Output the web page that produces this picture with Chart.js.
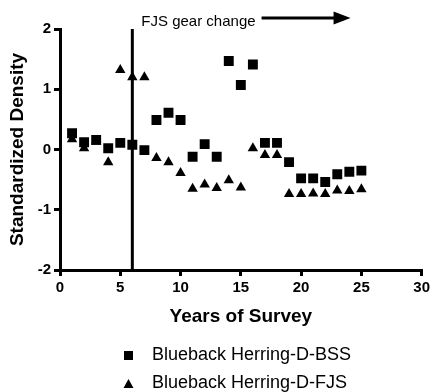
<!DOCTYPE html>
<html>
<head>
<meta charset="utf-8">
<script src="https://cdn.jsdelivr.net/npm/chart.js@4.4.0/dist/chart.umd.min.js"></script>
<style>
  html, body { margin: 0; padding: 0; background: #fff; }
  #densityChart { display: block; }
</style>
</head>
<body>
<canvas id="densityChart" width="433" height="392"></canvas>
<script>
const years = [1, 2, 3, 4, 5, 6, 7, 8, 9, 10, 11, 12, 13, 14, 15, 16, 17, 18, 19, 20, 21, 22, 23, 24, 25];
const bssDensity = [0.27, 0.12, 0.16, 0.02, 0.11, 0.08, -0.01, 0.49, 0.61, 0.49, -0.12, 0.09, -0.12,
  1.47, 1.07, 1.41, 0.11, 0.11, -0.21, -0.48, -0.48, -0.54, -0.41, -0.37, -0.35];
const fjsDensity = [0.17, 0.02, 0.13, -0.21, 1.32, 1.2, 1.2, -0.14, -0.21, -0.39, -0.65, -0.58, -0.64,
  -0.51, -0.63, 0.02, -0.09, -0.09, -0.74, -0.74, -0.73, -0.74, -0.68, -0.69, -0.66];
const seriesLabels = ['Blueback Herring-D-BSS', 'Blueback Herring-D-FJS'];
const gearChangeYear = 6;
const gearChangeLabel = 'FJS gear change';

const fontFamily = "Arial, 'Liberation Sans', sans-serif";
Chart.defaults.font.family = fontFamily;
Chart.defaults.color = '#000';

function toPoints(values) {
  return years.map((yr, i) => ({ x: yr, y: values[i] }));
}

// vertical line at the gear change, with the note + arrow above the plot
const gearChangePlugin = {
  id: 'gearChange',
  afterDatasetsDraw(chart) {
    const ctx = chart.ctx;
    const xs = chart.scales.x;
    const ys = chart.scales.y;
    const lineX = xs.getPixelForValue(gearChangeYear);

    ctx.save();
    ctx.strokeStyle = '#000';
    ctx.fillStyle = '#000';
    ctx.lineWidth = 3;
    ctx.beginPath();
    ctx.moveTo(lineX, ys.getPixelForValue(ys.max));
    ctx.lineTo(lineX, ys.getPixelForValue(ys.min));
    ctx.stroke();

    ctx.font = '15px ' + fontFamily;
    ctx.textBaseline = 'alphabetic';
    const textX = lineX + 9;
    const textY = chart.chartArea.top - 3;
    ctx.fillText(gearChangeLabel, textX, textY);

    const arrowY = chart.chartArea.top - 11;
    const start = textX + ctx.measureText(gearChangeLabel).width + 6;
    const tip = start + 89;
    ctx.beginPath();
    ctx.moveTo(start, arrowY);
    ctx.lineTo(tip - 15, arrowY);
    ctx.stroke();
    ctx.beginPath();
    ctx.moveTo(tip, arrowY);
    ctx.lineTo(tip - 17, arrowY - 6.5);
    ctx.lineTo(tip - 17, arrowY + 6.5);
    ctx.closePath();
    ctx.fill();
    ctx.restore();
  }
};

// legend stacked one entry per row under the x axis title
const stackedLegend = {
  id: 'stackedLegend',
  afterDraw(chart) {
    const ctx = chart.ctx;
    const area = chart.chartArea;
    const markX = area.left + 68.5;
    const textX = area.left + 92;
    ctx.save();
    ctx.fillStyle = '#000';
    ctx.font = '18px ' + fontFamily;
    ctx.textBaseline = 'middle';
    chart.data.datasets.forEach((ds, i) => {
      const rowY = area.bottom + 85 + i * 28;
      if (ds.pointStyle === 'rect') {
        ctx.fillRect(markX - 4.5, rowY - 4, 9, 9);
      } else {
        ctx.beginPath();
        ctx.moveTo(markX, rowY - 4);
        ctx.lineTo(markX + 5, rowY + 5);
        ctx.lineTo(markX - 5, rowY + 5);
        ctx.closePath();
        ctx.fill();
      }
      ctx.fillText(ds.label, textX, rowY);
    });
    ctx.restore();
  }
};

const axisGrid = { drawOnChartArea: false, drawTicks: true, tickLength: 6, lineWidth: 3, color: '#000' };
const axisBorder = { width: 3, color: '#000' };
const tickFont = { size: 15, weight: 'bold' };
const titleFont = { size: 19, weight: 'bold' };

const densityChart = new Chart(document.getElementById('densityChart'), {
  type: 'scatter',
  data: {
    datasets: [
      {
        label: seriesLabels[0],
        data: toPoints(bssDensity),
        pointStyle: 'rect',
        pointRadius: 7,
        pointHoverRadius: 7,
        backgroundColor: '#000',
        borderColor: '#000',
        borderWidth: 0,
      },
      {
        label: seriesLabels[1],
        data: toPoints(fjsDensity),
        pointStyle: 'triangle',
        pointRadius: 6,
        pointHoverRadius: 6,
        backgroundColor: '#000',
        borderColor: '#000',
        borderWidth: 0,
      },
    ],
  },
  options: {
    responsive: false,
    animation: false,
    layout: { padding: { left: 0, right: 11, top: 29, bottom: 64 } },
    plugins: {
      legend: { display: false },
      tooltip: { enabled: false },
    },
    scales: {
      x: {
        type: 'linear',
        min: 0,
        max: 30,
        ticks: { stepSize: 5, font: tickFont, color: '#000', padding: 3 },
        grid: axisGrid,
        border: axisBorder,
        title: { display: true, text: 'Years of Survey', font: titleFont, color: '#000', padding: 0 },
        afterFit(scale) {
          scale.height = 58;
        },
      },
      y: {
        type: 'linear',
        min: -2,
        max: 2,
        ticks: { stepSize: 1, font: tickFont, color: '#000', padding: 3 },
        grid: axisGrid,
        border: axisBorder,
        title: { display: true, text: 'Standardized Density', font: titleFont, color: '#000', padding: { top: 6, bottom: 0 } },
        afterFit(scale) {
          scale.width = 60;
        },
      },
    },
  },
  plugins: [gearChangePlugin, stackedLegend],
});
</script>
</body>
</html>
